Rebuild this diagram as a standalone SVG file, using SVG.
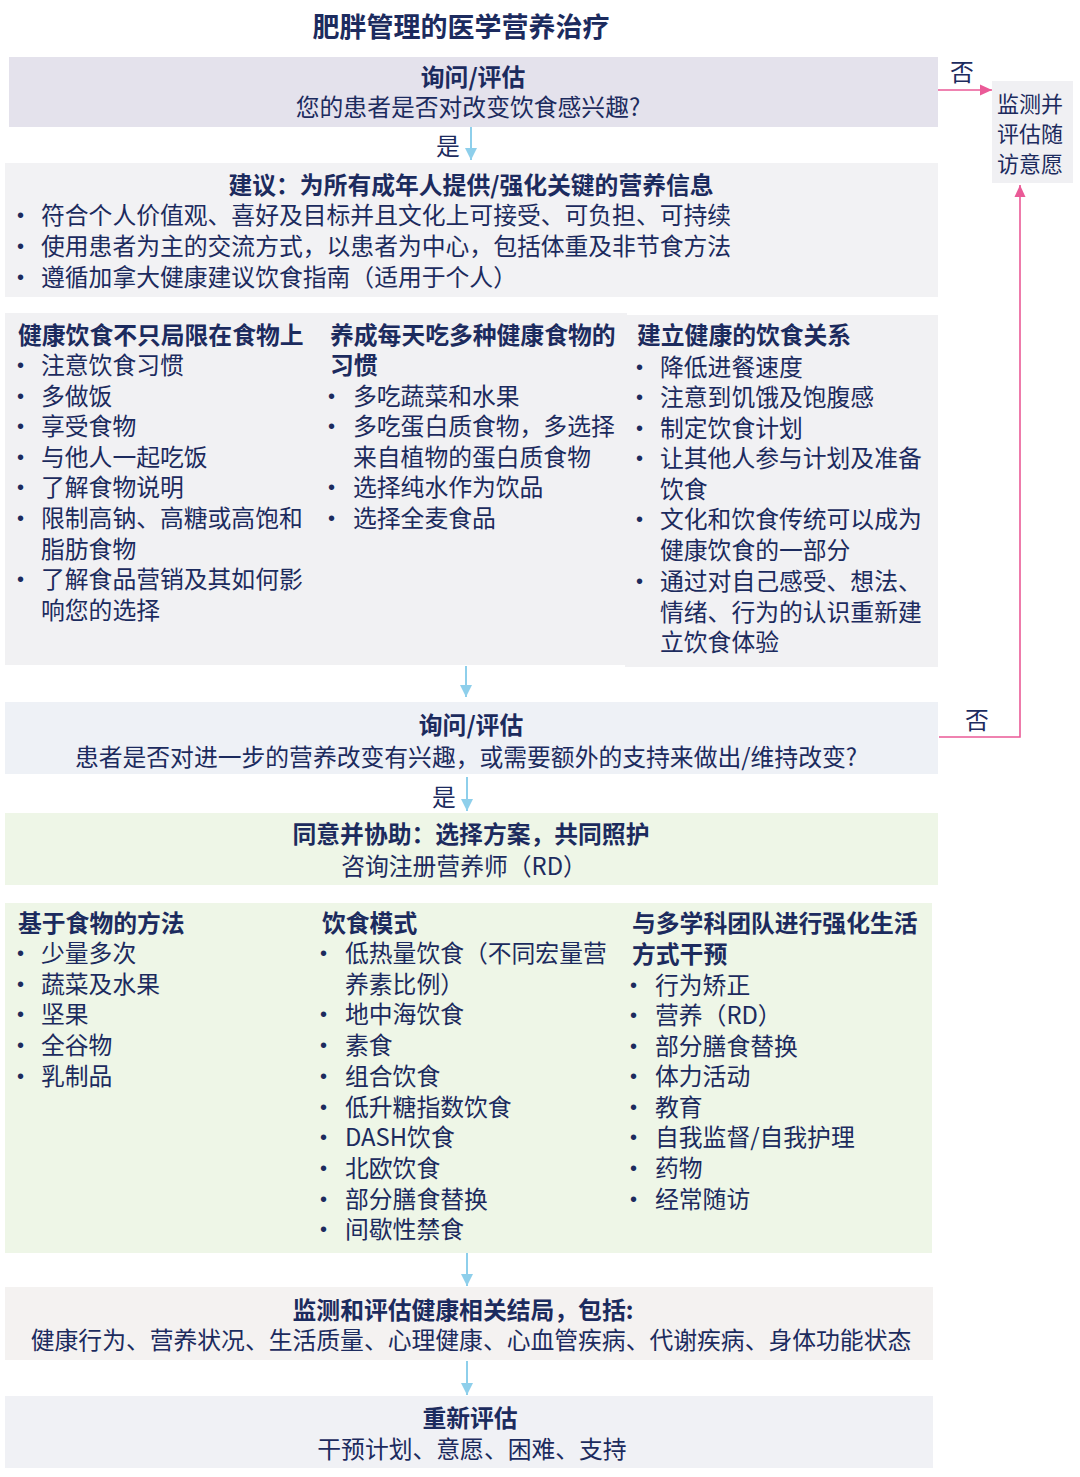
<svg xmlns="http://www.w3.org/2000/svg" width="1080" height="1477" viewBox="0 0 1080 1477">
<defs>
<style>
.t{font-family:"Noto Sans CJK SC","Noto Sans",sans-serif;font-size:23.8px;fill:#1c2b5e}
.b{font-weight:700}
.c{text-anchor:middle}
.bl{font-family:"Liberation Sans",sans-serif;font-size:20px;fill:#1c2b5e}
.blue{stroke:#8ecfeb;stroke-width:2;fill:none}
.pink{stroke:#ea5a97;stroke-width:1.6;fill:none}
</style>
<marker id="ab" markerUnits="userSpaceOnUse" markerWidth="14" markerHeight="14" viewBox="0 0 14 14" refX="12" refY="7" orient="auto">
<path d="M0,1 L12,7 L0,13 Z" fill="#8ecfeb"/>
</marker>
<marker id="ap" markerUnits="userSpaceOnUse" markerWidth="14" markerHeight="14" viewBox="0 0 14 14" refX="12" refY="7" orient="auto">
<path d="M0,1.5 L12,7 L0,12.5 Z" fill="#ea5a97"/>
</marker>
</defs>
<rect width="1080" height="1477" fill="#ffffff"/>

<text id="title" class="t b c" x="461" y="37" style="font-size:27px">肥胖管理的医学营养治疗</text>

<g id="connectors">
<line class="blue" x1="471" y1="127" x2="471" y2="160" marker-end="url(#ab)"/>
<line class="blue" x1="466" y1="666" x2="466" y2="697" marker-end="url(#ab)"/>
<line class="blue" x1="467" y1="777" x2="467" y2="811" marker-end="url(#ab)"/>
<line class="blue" x1="467" y1="1253" x2="467" y2="1286" marker-end="url(#ab)"/>
<line class="blue" x1="467" y1="1361" x2="467" y2="1395" marker-end="url(#ab)"/>
<path class="pink" d="M938,90 H992" marker-end="url(#ap)"/>
<path class="pink" d="M939,737 H1020 V185" marker-end="url(#ap)"/>
<text class="t" x="436" y="155">是</text>
<text class="t" x="432" y="806">是</text>
<text class="t" x="950" y="81">否</text>
<text class="t" x="965" y="729">否</text>
</g>

<g id="ask1">
<rect x="9" y="57" width="929" height="70" fill="#e4e2ec"/>
<text class="t b c" x="473" y="86">询问/评估</text>
<text class="t c" x="468" y="116">您的患者是否对改变饮食感兴趣?</text>
</g>

<g id="monitor-side">
<rect x="992" y="81" width="81" height="102" fill="#f0f0f3"/>
<text class="t" x="997" y="112" style="font-size:22px">监测并</text>
<text class="t" x="997" y="142" style="font-size:22px">评估随</text>
<text class="t" x="997" y="172" style="font-size:22px">访意愿</text>
</g>

<g id="advice">
<rect x="5" y="163" width="933" height="134" fill="#f2f2f4"/>
<text class="t b c" x="471" y="194">建议：为所有成年人提供/强化关键的营养信息</text>
<text class="bl" x="17" y="222">•</text><text class="t" x="41" y="224">符合个人价值观、喜好及目标并且文化上可接受、可负担、可持续</text>
<text class="bl" x="17" y="253">•</text><text class="t" x="41" y="255">使用患者为主的交流方式，以患者为中心，包括体重及非节食方法</text>
<text class="bl" x="17" y="284">•</text><text class="t" x="41" y="286">遵循加拿大健康建议饮食指南（适用于个人）</text>
</g>

<g id="healthy-eating">
<rect x="5" y="313" width="622" height="352" fill="#f1f1f3"/>
<rect x="625" y="315" width="313" height="352" fill="#f1f1f3"/>
</g>

<g id="beyond-food">
<text class="t b" x="18" y="344">健康饮食不只局限在食物上</text>
<text class="bl" x="17" y="372">•</text><text class="t" x="41" y="374">注意饮食习惯</text>
<text class="bl" x="17" y="403">•</text><text class="t" x="41" y="405">多做饭</text>
<text class="bl" x="17" y="433">•</text><text class="t" x="41" y="435">享受食物</text>
<text class="bl" x="17" y="464">•</text><text class="t" x="41" y="466">与他人一起吃饭</text>
<text class="bl" x="17" y="494">•</text><text class="t" x="41" y="496">了解食物说明</text>
<text class="bl" x="17" y="525">•</text><text class="t" x="41" y="527">限制高钠、高糖或高饱和</text>
<text class="t" x="41" y="558">脂肪食物</text>
<text class="bl" x="17" y="586">•</text><text class="t" x="41" y="588">了解食品营销及其如何影</text>
<text class="t" x="41" y="619">响您的选择</text>
</g>

<g id="variety">
<text class="t b" x="330" y="344">养成每天吃多种健康食物的</text>
<text class="t b" x="330" y="374">习惯</text>
<text class="bl" x="328" y="403">•</text><text class="t" x="353" y="405">多吃蔬菜和水果</text>
<text class="bl" x="328" y="433">•</text><text class="t" x="353" y="435">多吃蛋白质食物，多选择</text>
<text class="t" x="353" y="466">来自植物的蛋白质食物</text>
<text class="bl" x="328" y="494">•</text><text class="t" x="353" y="496">选择纯水作为饮品</text>
<text class="bl" x="328" y="525">•</text><text class="t" x="353" y="527">选择全麦食品</text>
</g>

<g id="relationship">
<text class="t b" x="637" y="344">建立健康的饮食关系</text>
<text class="bl" x="636" y="374">•</text><text class="t" x="660" y="376">降低进餐速度</text>
<text class="bl" x="636" y="404">•</text><text class="t" x="660" y="406">注意到饥饿及饱腹感</text>
<text class="bl" x="636" y="435">•</text><text class="t" x="660" y="437">制定饮食计划</text>
<text class="bl" x="636" y="465">•</text><text class="t" x="660" y="467">让其他人参与计划及准备</text>
<text class="t" x="660" y="498">饮食</text>
<text class="bl" x="636" y="526">•</text><text class="t" x="660" y="528">文化和饮食传统可以成为</text>
<text class="t" x="660" y="559">健康饮食的一部分</text>
<text class="bl" x="636" y="588">•</text><text class="t" x="660" y="590">通过对自己感受、想法、</text>
<text class="t" x="660" y="621">情绪、行为的认识重新建</text>
<text class="t" x="660" y="651">立饮食体验</text>
</g>

<g id="ask2">
<rect x="5" y="702" width="933" height="72" fill="#eef1f6"/>
<text class="t b c" x="471" y="734">询问/评估</text>
<text class="t c" x="466" y="766">患者是否对进一步的营养改变有兴趣，或需要额外的支持来做出/维持改变?</text>
</g>

<g id="agree">
<rect x="5" y="813" width="933" height="72" fill="#eef6e7"/>
<text class="t b c" x="471" y="843">同意并协助：选择方案，共同照护</text>
<text class="t c" x="464" y="875">咨询注册营养师（RD）</text>
</g>

<g id="options">
<rect x="5" y="903" width="927" height="350" fill="#eef6e7"/>
</g>

<g id="food-based">
<text class="t b" x="18" y="932">基于食物的方法</text>
<text class="bl" x="17" y="960">•</text><text class="t" x="41" y="962">少量多次</text>
<text class="bl" x="17" y="991">•</text><text class="t" x="41" y="993">蔬菜及水果</text>
<text class="bl" x="17" y="1021">•</text><text class="t" x="41" y="1023">坚果</text>
<text class="bl" x="17" y="1052">•</text><text class="t" x="41" y="1054">全谷物</text>
<text class="bl" x="17" y="1083">•</text><text class="t" x="41" y="1085">乳制品</text>
</g>

<g id="dietary-patterns">
<text class="t b" x="322" y="932">饮食模式</text>
<text class="bl" x="320" y="960">•</text><text class="t" x="345" y="962">低热量饮食（不同宏量营</text>
<text class="t" x="345" y="993">养素比例）</text>
<text class="bl" x="320" y="1021">•</text><text class="t" x="345" y="1023">地中海饮食</text>
<text class="bl" x="320" y="1052">•</text><text class="t" x="345" y="1054">素食</text>
<text class="bl" x="320" y="1083">•</text><text class="t" x="345" y="1085">组合饮食</text>
<text class="bl" x="320" y="1114">•</text><text class="t" x="345" y="1116">低升糖指数饮食</text>
<text class="bl" x="320" y="1144">•</text><text class="t" x="345" y="1146">DASH饮食</text>
<text class="bl" x="320" y="1175">•</text><text class="t" x="345" y="1177">北欧饮食</text>
<text class="bl" x="320" y="1206">•</text><text class="t" x="345" y="1208">部分膳食替换</text>
<text class="bl" x="320" y="1236">•</text><text class="t" x="345" y="1238">间歇性禁食</text>
</g>

<g id="lifestyle">
<text class="t b" x="632" y="932">与多学科团队进行强化生活</text>
<text class="t b" x="632" y="963">方式干预</text>
<text class="bl" x="630" y="992">•</text><text class="t" x="655" y="994">行为矫正</text>
<text class="bl" x="630" y="1022">•</text><text class="t" x="655" y="1024">营养（RD）</text>
<text class="bl" x="630" y="1053">•</text><text class="t" x="655" y="1055">部分膳食替换</text>
<text class="bl" x="630" y="1083">•</text><text class="t" x="655" y="1085">体力活动</text>
<text class="bl" x="630" y="1114">•</text><text class="t" x="655" y="1116">教育</text>
<text class="bl" x="630" y="1144">•</text><text class="t" x="655" y="1146">自我监督/自我护理</text>
<text class="bl" x="630" y="1175">•</text><text class="t" x="655" y="1177">药物</text>
<text class="bl" x="630" y="1206">•</text><text class="t" x="655" y="1208">经常随访</text>
</g>

<g id="outcomes">
<rect x="5" y="1287" width="928" height="73" fill="#f4f2f1"/>
<text class="t b c" x="463" y="1319">监测和评估健康相关结局，包括:</text>
<text class="t c" x="471" y="1349">健康行为、营养状况、生活质量、心理健康、心血管疾病、代谢疾病、身体功能状态</text>
</g>

<g id="reassess">
<rect x="5" y="1396" width="928" height="72" fill="#f0f1f5"/>
<text class="t b c" x="470" y="1427">重新评估</text>
<text class="t c" x="472" y="1458">干预计划、意愿、困难、支持</text>
</g>
</svg>
